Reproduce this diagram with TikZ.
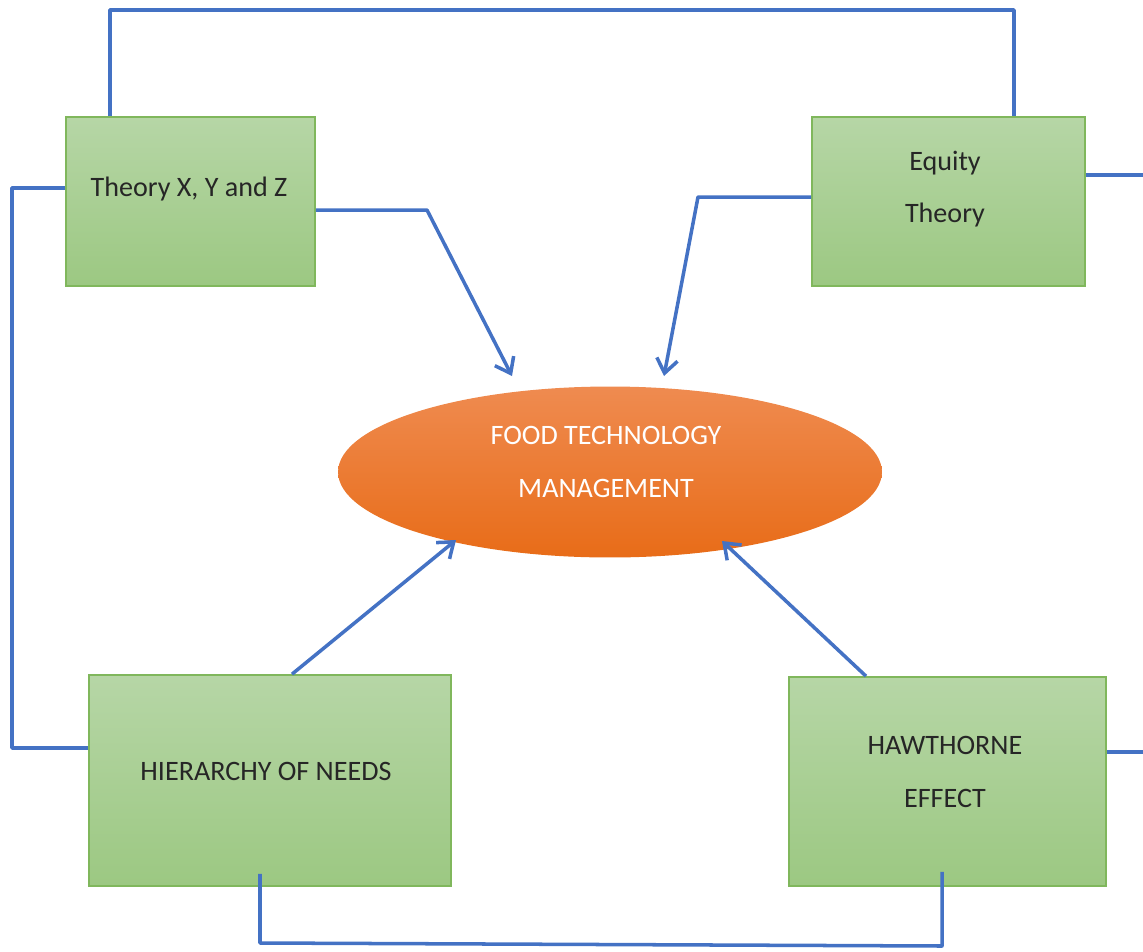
\documentclass[tikz,border=0pt]{standalone}
\usepackage{fontspec}
\setmainfont{Carlito}
\usetikzlibrary{arrows.meta,shapes.geometric}
\definecolor{linkblue}{HTML}{4472C4}
\definecolor{boxtop}{HTML}{B6D6A6}
\definecolor{boxbottom}{HTML}{9CC882}
\definecolor{boxedge}{HTML}{80B75C}
\definecolor{ftmtop}{HTML}{EF8B50}
\definecolor{ftmbottom}{HTML}{E86C18}
\tikzset{theorybox/.style={draw=boxedge, line width=1pt, top color=boxtop, bottom color=boxbottom, inner sep=0pt},
         link/.style={linkblue, line width=2pt, line join=round},
         feed/.style={link, -{Straight Barb[length=8pt,width=12pt,line width=2pt]}},
         boxtext/.style={font=\fontsize{16}{30}\selectfont, align=center, text=black!85}}

\begin{document}
\begin{tikzpicture}[x=0.02cm, y=-0.02cm]
   \useasboundingbox (0,0) rectangle (1143,951);
   % the four theories
   \node[theorybox, minimum width=4.98cm, minimum height=3.38cm] (xyz) at (190.5,201.5) {};
   \node[theorybox, minimum width=5.46cm, minimum height=3.38cm] (eq)  at (948.5,201.5) {};
   \node[theorybox, minimum width=7.24cm, minimum height=4.22cm] (hon) at (270,780.5) {};
   \node[theorybox, minimum width=6.34cm, minimum height=4.18cm] (hw)  at (947.5,781.5) {};
   % the centre
   \node[ellipse, top color=ftmtop, bottom color=ftmbottom, minimum width=10.88cm, minimum height=3.42cm] (ftm) at (610,472) {};
   % texts
   \node[boxtext] (xyz text) at (189,189) {Theory X, Y and Z};
   \node[boxtext] (eq text)  at (945,189) {Equity\\Theory};
   \node[boxtext] (hon text) at (266,771) {HIERARCHY OF NEEDS};
   \node[boxtext] (hw text)  at (945,772) {HAWTHORNE\\EFFECT};
   \node[boxtext, text=white] (ftm text) at (606,462) {FOOD TECHNOLOGY\\MANAGEMENT};
   % free ends
   \coordinate (ftm in1) at (512,376);
   \coordinate (ftm in2) at (664,376);
   \coordinate (ftm in3) at (456,540);
   \coordinate (ftm in4) at (722,541);
   \coordinate (eq out)  at (1143,175);
   \coordinate (hw out)  at (1143,752);
   % arrows into the centre
   \draw[feed] (xyz.east |- 0,210) -- (427,210) -- (ftm in1);
   \draw[feed] (eq.west |- 0,197) -- (698,197) -- (ftm in2);
   \draw[feed] (292,0 |- hon.north) -- (ftm in3);
   \draw[feed] (866,0 |- hw.north) -- (ftm in4);
   % loops round the boxes
   \draw[link] (110,0 |- xyz.north) -- (110,10) -- (1014,10) -- (1014,0 |- eq.north);
   \draw[link] (xyz.west |- 0,188) -- (12,188) -- (12,748) -- (hon.west |- 0,748);
   \draw[link] (hon.south -| 260,0) ++(0,-13) -- (260,943) -- (942,946) -- ([yshift=0.3cm]hw.south -| 942,0);
   \draw[link] (eq.east |- 0,175) -- (eq out);
   \draw[link] (hw.east |- 0,752) -- (hw out);
\end{tikzpicture}
\end{document}
